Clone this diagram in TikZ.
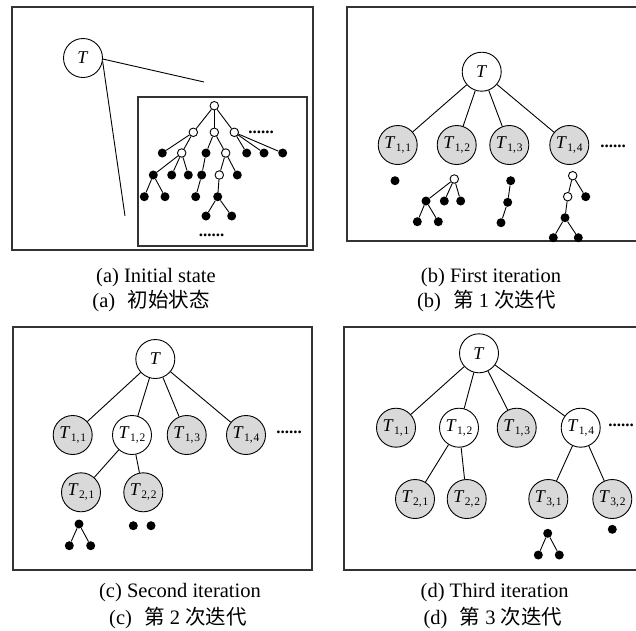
\documentclass[tikz,border=0pt]{standalone}
\usepackage{fontspec}
\usepackage{graphicx}
\setmainfont{Liberation Serif}
\newfontfamily\cjk{Noto Sans CJK SC}
% italic T with an upright index set lower and smaller
\newcommand\Tsub[2]{\textit{T}\kern0.02em\raisebox{-0.4ex}{\fontsize{11.5}{11.5}\selectfont #1,\kern0.08em#2}}

\tikzset{
  panel/.style={draw=black!80, line width=1.5pt},
  big/.style={circle, draw, line width=0.9pt, fill=white, minimum size=39pt,
    inner sep=0pt, font=\fontsize{18}{18}\selectfont},
  bigg/.style={big, fill=black!15},
  wd/.style={circle, draw, line width=0.9pt, fill=white, minimum size=8.5pt, inner sep=0pt},
  bd/.style={circle, fill=black, minimum size=9pt, inner sep=0pt},
  link/.style={line width=0.9pt},
  more/.style={font=\fontsize{17}{17}\selectfont\bfseries, inner sep=0pt},
  caption/.style={font=\fontsize{20.5}{20.5}\selectfont, inner sep=0pt},
}

\begin{document}
\begin{tikzpicture}[x=1pt, y=-1pt]
\useasboundingbox (0,0) rectangle (636,630);
\clip (0,0) rectangle (636,630);
\fill[white] (0,0) rectangle (636,630);

% ---------------- (a) initial state ----------------
\draw[panel] (12,7) rectangle (313,250);
\node[big] (aT) at (83,58) {\textit{T}};
\coordinate (az1) at (204,82);
\coordinate (az2) at (125,216);
\draw[link] (aT.-3) -- (az1);
\draw[link] (aT.-10) -- (az2);
\draw[panel, line width=1.2pt] (138,97) rectangle (307,246);

\node[wd] (a0) at (214.3,105.7) {};
\node[wd] (a1) at (193.3,132.3) {};
\node[wd] (a2) at (214.3,132.3) {};
\node[wd] (a3) at (234.3,132.3) {};
\node[more] (adots1) at (261,132.3) {......};
\node[bd] (b1) at (162.3,153) {};
\node[wd] (b2) at (181.7,153) {};
\node[bd] (b3) at (206,153) {};
\node[wd] (b4) at (225.7,153) {};
\node[bd] (b5) at (246.7,153) {};
\node[bd] (b6) at (264,153) {};
\node[bd] (b7) at (282.7,153) {};
\node[bd] (c1) at (153.3,175) {};
\node[bd] (c2) at (171.7,175) {};
\node[bd] (c3) at (188.3,175) {};
\node[bd] (c4) at (201.7,175) {};
\node[wd] (c5) at (219.3,175) {};
\node[bd] (c6) at (237.3,175) {};
\node[bd] (d1) at (144.3,196.7) {};
\node[bd] (d2) at (165,196.7) {};
\node[bd] (d3) at (195.7,196.7) {};
\node[bd] (d4) at (217.7,196.7) {};
\node[bd] (e1) at (206,216) {};
\node[bd] (e2) at (231.7,216) {};
\node[more] (adots2) at (211.7,235) {......};

\foreach \p/\c in {a0/a1,a0/a2,a0/a3,a1/b1,a1/b2,a2/b3,a2/b4,a3/b5,a3/b6,a3/b7,
  b2/c1,b2/c2,b2/c3,b3/c4,b4/c5,b4/c6,c1/d1,c1/d2,c4/d3,c5/d4,d4/e1,d4/e2}
  \draw[link] (\p) -- (\c);

\node[caption] (acap1) at (156,278) {(a) Initial state};
\node[caption] (acap2) at (151,301) {(a)\hspace{0.6em}{\cjk 初始状态}};

% ---------------- (b) first iteration ----------------
\draw[panel] (347,7) rectangle (642,241);
\node[big] (bT) at (481.7,71.7) {\textit{T}};
\node[bigg] (b11) at (397.7,145) {\Tsub{1}{1}};
\node[bigg] (b12) at (456.7,145) {\Tsub{1}{2}};
\node[bigg] (b13) at (509.3,145) {\Tsub{1}{3}};
\node[bigg] (b14) at (569.3,145) {\Tsub{1}{4}};
\node[more] (bdots) at (613,146) {......};
\foreach \c in {b11,b12,b13,b14} \draw[link] (bT) -- (\c);

\node[bd] (p0) at (395,180.7) {};

\node[wd] (q0) at (454.3,179) {};
\node[bd] (q1) at (426,201) {};
\node[bd] (q2) at (444.3,201) {};
\node[bd] (q3) at (460.7,201) {};
\node[bd] (q4) at (417.3,221.7) {};
\node[bd] (q5) at (438.3,221.7) {};

\node[bd] (r0) at (510.7,180.7) {};
\node[bd] (r1) at (507.7,202.3) {};
\node[bd] (r2) at (501,222.7) {};

\node[wd] (s0) at (572.7,175.7) {};
\node[wd] (s1) at (567.7,196.7) {};
\node[bd] (s2) at (585.7,196.7) {};
\node[bd] (s3) at (565,217.7) {};
\node[bd] (s4) at (553.3,237.7) {};
\node[bd] (s5) at (578.3,237.7) {};

\foreach \p/\c in {q0/q1,q0/q2,q0/q3,q1/q4,q1/q5,r0/r1,r1/r2,
  s0/s1,s0/s2,s1/s3,s3/s4,s3/s5}
  \draw[link] (\p) -- (\c);

\node[caption] (bcap1) at (491,278) {(b) First iteration};
\node[caption] (bcap2) at (486.5,301) {(b)\hspace{0.6em}{\cjk 第} 1 {\cjk 次迭代}};

% ---------------- (c) second iteration ----------------
\draw[panel] (13,327) rectangle (312,570);
\node[big] (cT) at (155.3,359) {\textit{T}};
\node[bigg] (c11) at (72.7,435) {\Tsub{1}{1}};
\node[big]  (c12) at (132,435) {\Tsub{1}{2}};
\node[bigg] (c13) at (186.7,435) {\Tsub{1}{3}};
\node[bigg] (c14) at (246,435) {\Tsub{1}{4}};
\node[more] (cdots) at (289,432) {......};
\node[bigg] (c21) at (81,492.3) {\Tsub{2}{1}};
\node[bigg] (c22) at (143.3,492.3) {\Tsub{2}{2}};
\foreach \c in {c11,c12,c13,c14} \draw[link] (cT) -- (\c);
\draw[link] (c12) -- (c21);
\draw[link] (c12) -- (c22);

\node[bd] (u0) at (79,524) {};
\node[bd] (u1) at (69.3,545.7) {};
\node[bd] (u2) at (90.7,545.7) {};
\node[bd] (v1) at (133.3,525.7) {};
\node[bd] (v2) at (151,525.7) {};
\draw[link] (u0) -- (u1);
\draw[link] (u0) -- (u2);

\node[caption] (ccap1) at (180,593) {(c) Second iteration};
\node[caption] (ccap2) at (178,618) {(c)\hspace{0.6em}{\cjk 第} 2 {\cjk 次迭代}};

% ---------------- (d) third iteration ----------------
\draw[panel] (344,327) rectangle (642,570);
\node[big] (dT) at (479,353.3) {\textit{T}};
\node[bigg] (d11) at (396,427.7) {\Tsub{1}{1}};
\node[big]  (d12) at (459,427.7) {\Tsub{1}{2}};
\node[bigg] (d13) at (516.7,427.7) {\Tsub{1}{3}};
\node[big]  (d14) at (580.7,427.7) {\Tsub{1}{4}};
\node[more] (ddots) at (621,425) {......};
\node[bigg] (d21) at (415,499) {\Tsub{2}{1}};
\node[bigg] (d22) at (466.7,499) {\Tsub{2}{2}};
\node[bigg] (d31) at (548.3,499) {\Tsub{3}{1}};
\node[bigg] (d32) at (612.3,499) {\Tsub{3}{2}};
\foreach \c in {d11,d12,d13,d14} \draw[link] (dT) -- (\c);
\foreach \p/\c in {d12/d21,d12/d22,d14/d31,d14/d32} \draw[link] (\p) -- (\c);

\node[bd] (w0) at (547.7,533.3) {};
\node[bd] (w1) at (538.3,555) {};
\node[bd] (w2) at (559.3,555) {};
\node[bd] (x0) at (612.3,529.3) {};
\draw[link] (w0) -- (w1);
\draw[link] (w0) -- (w2);

\node[caption] (dcap1) at (494.7,593) {(d) Third iteration};
\node[caption] (dcap2) at (493,618) {(d)\hspace{0.6em}{\cjk 第} 3 {\cjk 次迭代}};
\end{tikzpicture}
\end{document}
